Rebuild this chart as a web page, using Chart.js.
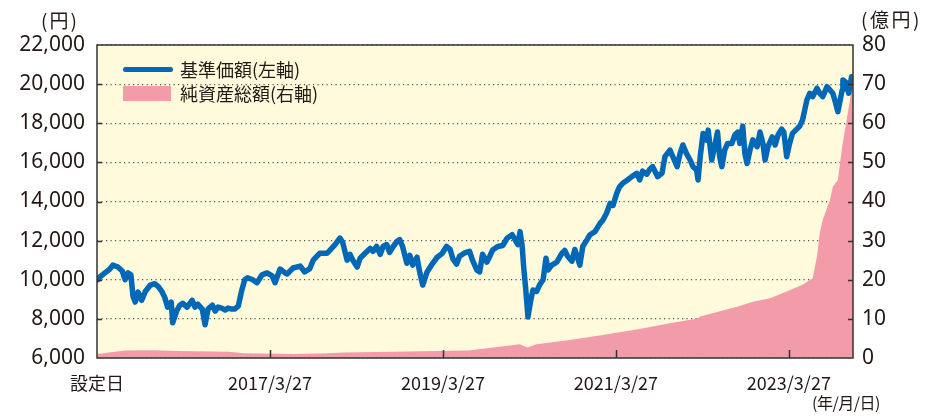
<!DOCTYPE html>
<html>
<head>
<meta charset="utf-8">
<script src="https://cdn.jsdelivr.net/npm/chart.js@4/dist/chart.umd.min.js"></script>
<style>
  html,body{margin:0;padding:0;background:#fff;}
  #wrap{position:relative;width:929px;height:417px;}
  canvas{position:absolute;left:0;top:0;}
  .t{position:absolute;font-family:"Noto Sans CJK JP","Noto Sans",sans-serif;color:#231815;white-space:nowrap;line-height:1;}
  .lg{position:absolute;font-family:"Noto Sans CJK JP",sans-serif;font-size:18px;color:#231815;white-space:nowrap;line-height:1;}
</style>
</head>
<body>
<div id="wrap">
<canvas id="c" width="929" height="417"></canvas>
<div class="t" style="left:41px;top:10px;font-size:19px;letter-spacing:2px;">(円)</div>
<div class="t" style="left:861px;top:9px;font-size:19px;letter-spacing:2.5px;">(億円)</div>
<div class="t" style="left:812px;top:394px;font-size:16px;letter-spacing:-0.5px;">(年/月/日)</div>
<div style="position:absolute;left:123px;top:67px;width:50px;height:5px;background:#0068B6;border-radius:3px;"></div>
<div class="lg" style="left:180px;top:60px;">基準価額(左軸)</div>
<div style="position:absolute;left:123px;top:86px;width:48px;height:15px;background:#F19CA8;"></div>
<div class="lg" style="left:180px;top:84px;">純資産総額(右軸)</div>
</div>
<script>
// ---- data (months since inception) ----
const navMonths = [0,0.1,1.1,1.8,2.2,2.9,3.5,3.9,4.3,4.7,5.0,5.3,5.7,6.2,6.7,7.4,8.0,8.5,9.0,9.4,9.8,10.3,10.5,11.1,11.5,11.9,12.5,13.2,13.6,14.0,14.6,15.0,15.4,16.0,16.4,16.8,17.3,17.8,18.2,18.7,19.1,19.6,20.1,20.5,20.9,21.6,22.2,22.9,23.6,24.3,24.7,25.4,26.1,26.4,27.2,28.2,28.8,29.5,30.0,30.9,31.9,32.3,33.0,33.7,34.1,34.7,35.1,35.5,36.1,36.5,37.2,37.9,38.3,38.8,39.3,39.7,40.2,40.6,41.1,41.6,42.0,42.4,43.0,43.4,43.8,44.4,44.8,45.2,45.8,46.5,47.2,47.9,48.5,49.0,49.4,49.9,50.3,51.0,51.7,52.1,52.7,53.1,53.5,54.1,54.5,54.9,55.6,56.3,56.9,57.6,58.0,58.4,58.7,59.0,59.2,59.5,59.8,60.2,60.5,61.0,61.4,61.9,62.3,62.6,63.1,63.8,64.5,64.9,65.3,65.9,66.3,67.0,67.4,68.0,68.4,69.1,69.8,70.2,70.7,71.2,71.6,72.1,72.5,73.0,73.6,74.3,74.9,75.3,75.7,76.3,76.7,77.1,77.8,78.4,78.8,79.5,79.9,80.5,80.9,81.3,81.8,82.3,82.7,83.2,83.4,83.7,84.1,84.6,84.8,85.3,85.7,86.1,86.4,86.7,87.1,87.5,88.1,88.5,88.9,89.2,89.6,89.9,90.2,90.6,91.0,91.6,92.0,92.4,92.7,93.1,93.7,94.1,94.5,95.0,95.3,95.7,96.1,96.5,97.1,97.5,97.9,98.5,98.9,99.3,99.9,100.3,100.7,101.3,101.7,102.1,102.5,102.8,103.4,103.5,104.1,104.3,104.7,104.9];
const navValues = [10000,10050,10350,10550,10750,10650,10450,10000,10350,10250,9150,8860,9370,8950,9400,9730,9800,9650,9400,9100,8600,8850,7800,8450,8700,8800,8600,8950,8600,8750,8500,7700,8500,8700,8400,8600,8550,8450,8550,8500,8500,8650,9480,10000,10100,10000,9850,10250,10350,10200,9850,10550,10350,10300,10600,10700,10400,10550,11000,11350,11350,11500,11780,12130,11900,11000,11300,11000,10650,11100,11350,11600,11450,11700,11300,11700,11800,11400,11700,11950,12050,11700,10840,11250,10750,11150,10350,9730,10400,10800,11150,11350,11700,11550,11050,10800,11200,11370,11450,11000,10500,10400,11300,10900,11200,11520,11700,11750,12120,12300,12050,11800,12460,11700,10670,9480,8100,8970,9480,9400,9730,10000,11100,10500,10750,10900,11350,11500,11200,10950,11550,10750,11700,12050,12300,12460,12880,13050,13400,13900,13800,14400,14750,14950,15100,15300,15440,15100,15550,15400,15650,15780,15270,15450,16290,16630,16290,15780,16450,16890,16450,16120,15780,15610,15100,16290,17480,17140,17650,16120,16800,17550,16290,15780,16630,16970,16970,17400,17550,16970,17850,16450,15950,16630,17150,16800,17550,16970,16120,16800,17300,16890,17400,17700,17550,16290,16970,17480,17700,17850,18160,19190,19530,19360,19790,19530,19360,19870,19700,19530,19020,18590,19700,20210,20040,19530,20380,20300];
const assetMonths = [0,0.1,2.5,3.9,7.6,11.2,18.2,20.5,27.5,32.0,34.4,41.3,47.3,51.7,52.4,58.7,59.7,61.0,65.6,70.2,74.9,79.5,83.3,83.7,88.8,91.0,93.4,95.7,97.9,99.3,99.9,100.3,100.7,101.7,102.1,102.8,103.4,104.1,104.7,104.9];
const assetValues = [0.5,1.0,1.6,1.9,2.0,1.8,1.6,1.2,1.0,1.2,1.4,1.6,1.8,1.9,2.1,3.5,2.7,3.5,4.6,5.9,7.3,8.9,10.1,10.6,13.1,14.4,15.3,17.0,18.7,20.4,25.9,32.0,35.3,40.4,43.8,45.5,54.0,61.7,68.5,70.0];
const xTickMonths = [0,24,48,72,96];
const xTickLabels = ['設定日','2017/3/27','2019/3/27','2021/3/27','2023/3/27'];
const leftTicks = {min:6000,max:22000,step:2000};
const rightTicks = {min:0,max:80,step:10};

const BG = '#FEFADB', BLUE = '#0068B6', PINK = '#F19CA8', INK = '#231815';

const frame = {
  id:'frame',
  beforeDraw(chart){
    const {ctx, chartArea:a} = chart;
    ctx.save(); ctx.fillStyle = BG; ctx.fillRect(a.left,a.top,a.right-a.left,a.bottom-a.top); ctx.restore();
  },
  afterDraw(chart){
    const {ctx, chartArea:a, scales} = chart;
    ctx.save();
    ctx.strokeStyle = '#333'; ctx.lineWidth = 1.5;
    ctx.strokeRect(a.left,a.top,a.right-a.left,a.bottom-a.top);
    ctx.beginPath();
    xTickMonths.forEach((m,i)=>{ if(i===0) return; const x = Math.round(scales.x.getPixelForValue(m))+0.5; ctx.moveTo(x,a.bottom); ctx.lineTo(x,a.bottom-8); });
    for(let v=leftTicks.min+leftTicks.step; v<leftTicks.max; v+=leftTicks.step){
      const y = Math.round(scales.y.getPixelForValue(v))+0.5;
      ctx.moveTo(a.left,y); ctx.lineTo(a.left+5,y);
      ctx.moveTo(a.right,y); ctx.lineTo(a.right-5,y);
    }
    ctx.stroke();
    ctx.restore();
  }
};

new Chart(document.getElementById('c'), {
  type:'line',
  data:{
    datasets:[
      {label:'基準価額(左軸)', data:navMonths.map((m,i)=>({x:m,y:navValues[i]})), yAxisID:'y', borderColor:BLUE, borderWidth:5.5, pointRadius:0, tension:0, borderJoinStyle:'round', borderCapStyle:'round', fill:false, order:0},
      {label:'純資産総額(右軸)', data:assetMonths.map((m,i)=>({x:m,y:assetValues[i]})), yAxisID:'y2', borderWidth:0, borderColor:PINK, backgroundColor:PINK, pointRadius:0, tension:0, fill:'origin', order:1}
    ]
  },
  options:{
    responsive:false, animation:false,
    layout:{padding:{top:45,left:0,right:0,bottom:0}},
    plugins:{legend:{display:false}, tooltip:{enabled:false}},
    scales:{
      x:{type:'linear', min:0, max:104.9,
        grid:{display:false, drawTicks:false}, border:{display:false},
        afterBuildTicks:(s)=>{ s.ticks = xTickMonths.map(v=>({value:v})); },
        afterFit:(s)=>{ s.height = 59; },
        ticks:{autoSkip:false, maxRotation:0, padding:14, color:INK,
          font:{family:'"Liberation Sans Narrow","Noto Sans CJK JP",sans-serif', size:18},
          callback:(v)=>{ const i = xTickMonths.indexOf(v); return i>=0 ? xTickLabels[i] : ''; }}
      },
      y:{position:'left', min:leftTicks.min, max:leftTicks.max,
        grid:{color:'#555', lineWidth:1.2, drawTicks:false, borderDash:[1.2,3.3]}, border:{display:false, dash:[1.2,3.3]},
        afterFit:(s)=>{ s.width = 97; },
        ticks:{stepSize:leftTicks.step, padding:12, color:INK,
          font:{family:'"Noto Sans","Noto Sans CJK JP",sans-serif', size:21},
          callback:(v)=>v.toLocaleString('en-US')}
      },
      y2:{position:'right', min:rightTicks.min, max:rightTicks.max,
        grid:{display:false, drawTicks:false}, border:{display:false},
        afterFit:(s)=>{ s.width = 76; },
        ticks:{stepSize:rightTicks.step, padding:9, color:INK,
          font:{family:'"Noto Sans","Noto Sans CJK JP",sans-serif', size:21}}
      }
    }
  },
  plugins:[frame]
});
</script>
</body>
</html>
